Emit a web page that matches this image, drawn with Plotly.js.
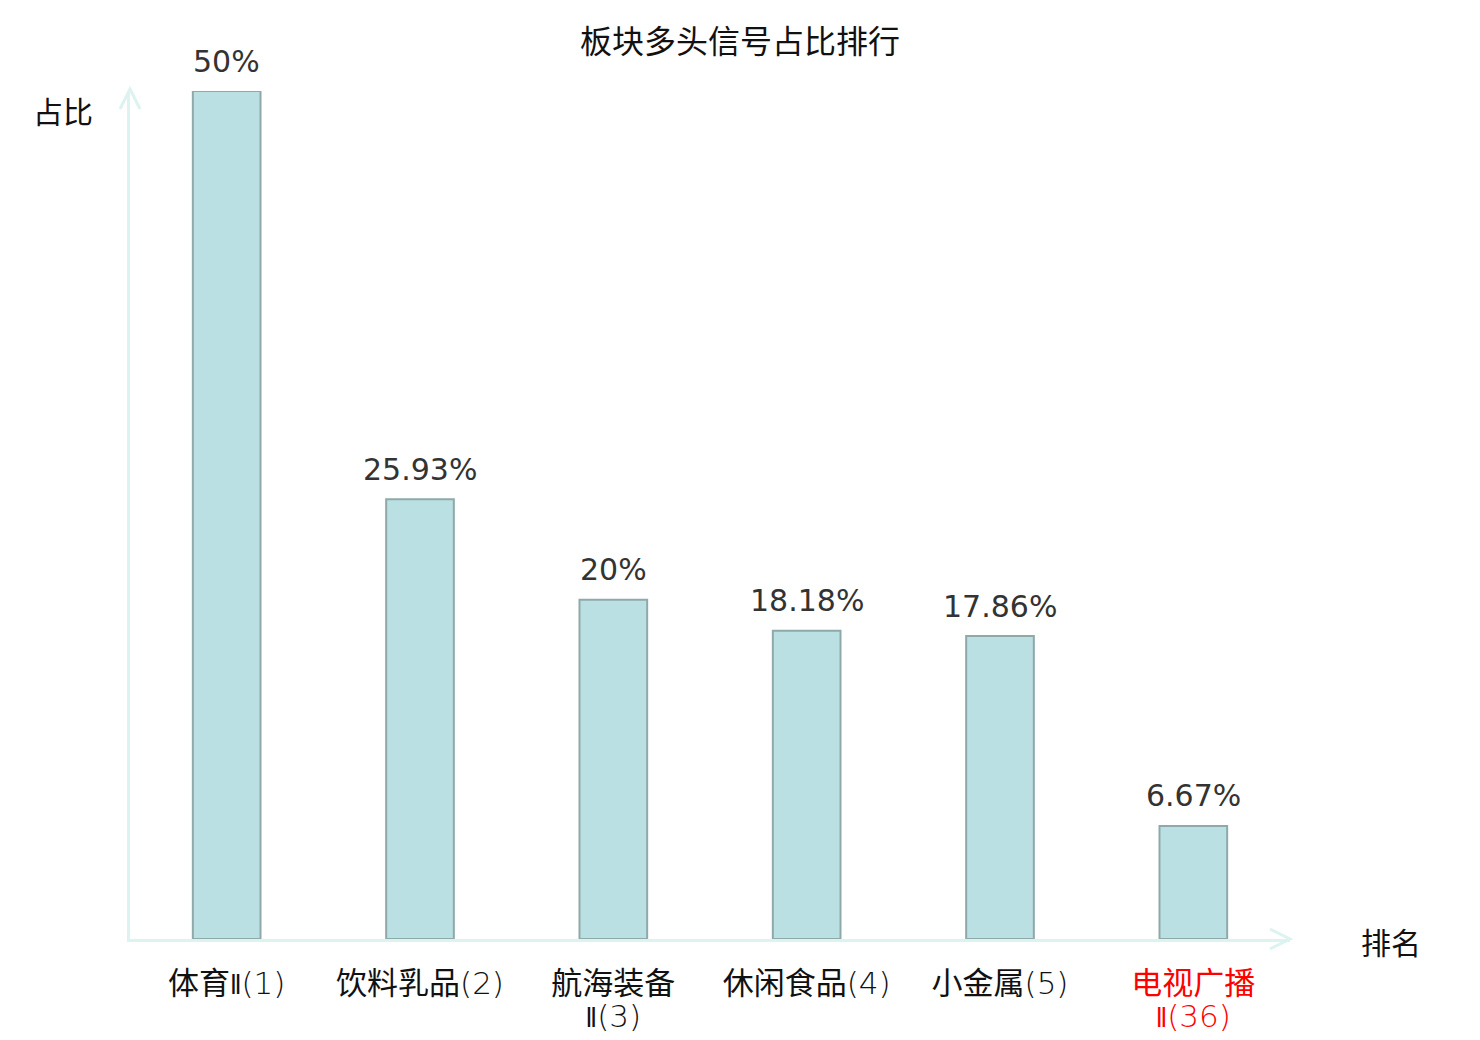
<!DOCTYPE html>
<html>
<head>
<meta charset="utf-8">
<script src="https://cdn.plot.ly/plotly-3.0.1.min.js"></script>
<style>
  html, body { margin: 0; padding: 0; background: #fff; }
  #divPlot { width: 1480px; height: 1040px; }
</style>
</head>
<body>
<div id="divPlot"></div>
<script>
/* Chart data */
var sectors = ['体育Ⅱ', '饮料乳品', '航海装备<br>Ⅱ', '休闲食品', '小金属', '电视广播<br>Ⅱ'];
var ranks = [1, 2, 3, 4, 5, 36];
var shares = [50, 25.93, 20, 18.18, 17.86, 6.67];
var shareLabels = ['50%', '25.93%', '20%', '18.18%', '17.86%', '6.67%'];

var axisColor = '#ddf3ef';
var xPos = [0, 1, 2, 3, 4, 5];

var thinRoman = '<span style="font-family:\'DejaVu Sans Condensed\', \'DejaVu Sans\';font-weight:200;font-size:26px">Ⅱ</span>';

// tick text: name + (rank), last one (own sector) in red
// big glyphs in a span, small base size keeps the two lines close together
var tickText = sectors.map(function (s, i) {
  var rank = '<span style="font-family:\'DejaVu Sans\';font-weight:200">(' + ranks[i] + ')</span>';
  var lines = (s.replace('Ⅱ', thinRoman) + rank).split('<br>');
  var col = (i === sectors.length - 1) ? '#ff0000' : '#111111';
  return lines.map(function (l) {
    return '<span style="font-size:31px;color:' + col + '">' + l + '</span>';
  }).join('<br>');
});

var trace = {
  x : xPos,
  y : shares,
  type : 'bar',
  width : 0.35,
  marker : {
    color : '#bbe0e3',
    line : {color : '#8fa9a9', width : 2}
  },
  hoverinfo : 'none'
};

// value labels above the bars
var valueNotes = shares.map(function (v, i) {
  return {
    x : xPos[i], y : v, xref : 'x', yref : 'y',
    text : shareLabels[i], showarrow : false,
    xanchor : 'center', yanchor : 'middle', yshift : 30,
    font : {family : 'DejaVu Sans', size : 30, color : '#333333'}
  };
});

var layout = {
  width : 1480,
  height : 1040,
  margin : {l : 130, r : 190, t : 91, b : 101},
  paper_bgcolor : '#ffffff',
  plot_bgcolor : '#ffffff',
  showlegend : false,
  font : {family : '"Noto Sans CJK SC", "DejaVu Sans", sans-serif', color : '#111111'},
  title : {
    text : '板块多头信号占比排行',
    font : {size : 32, color : '#111111'},
    x : 0.5,
    xref : 'container',
    xanchor : 'center',
    y : 0.96,
    yanchor : 'middle'
  },
  xaxis : {
    range : [-0.5, 5.5],
    tickmode : 'array',
    tickvals : xPos,
    ticktext : tickText,
    tickfont : {size : 25, color : '#111111'},
    ticks : '',
    ticklabelstandoff : 22,
    showgrid : false,
    zeroline : false,
    showline : true,
    linecolor : axisColor,
    linewidth : 3,
    fixedrange : true
  },
  yaxis : {
    range : [0, 50],
    showticklabels : false,
    ticks : '',
    showgrid : false,
    zeroline : false,
    showline : true,
    linecolor : axisColor,
    linewidth : 3,
    fixedrange : true
  },
  annotations : valueNotes.concat([
    {
      text : '占比', xref : 'paper', yref : 'paper', x : 0, y : 1,
      xanchor : 'center', yanchor : 'middle',
      xshift : -67, yshift : -19, showarrow : false,
      font : {size : 30, color : '#111111'}
    },
    {
      text : '排名', xref : 'paper', yref : 'paper', x : 1, y : 0,
      xanchor : 'center', yanchor : 'middle',
      xshift : 101, yshift : -2, showarrow : false,
      font : {size : 30, color : '#111111'}
    }
  ]),
  shapes : [
    // arrow head on x axis end
    {
      type : 'path', xref : 'paper', yref : 'paper',
      xsizemode : 'pixel', ysizemode : 'pixel', xanchor : 1, yanchor : 0,
      path : 'M -20 10 L 0 0 L -20 -10',
      line : {color : axisColor, width : 3}
    },
    // arrow head on y axis top
    {
      type : 'path', xref : 'paper', yref : 'paper',
      xsizemode : 'pixel', ysizemode : 'pixel', xanchor : 0, yanchor : 1,
      path : 'M -10 -18 L 0 2 L 10 -18',
      line : {color : axisColor, width : 3}
    }
  ]
};

Plotly.newPlot('divPlot', [trace], layout, {displayModeBar : false, staticPlot : true});
</script>
</body>
</html>
